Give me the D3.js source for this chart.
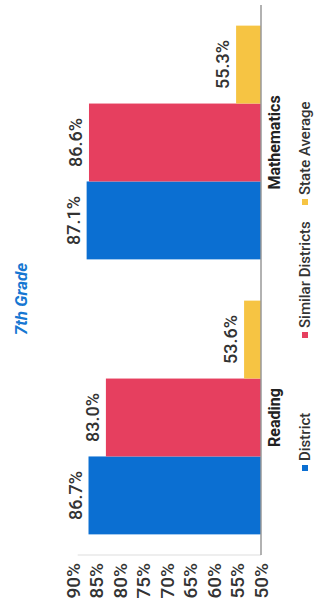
<!DOCTYPE html>
<html>
<head>
<meta charset="utf-8">
<script src="https://cdn.jsdelivr.net/npm/d3@7"></script>
<style>
  body { margin: 0; background: #fff; }
  svg { display: block; font-family: Roboto, sans-serif; }
</style>
</head>
<body>
<svg width="315" height="605"></svg>
<script>
const categories = ["Reading", "Mathematics"];
const series = ["District", "Similar Districts", "State Average"];
const district = [86.7, 87.1];
const similar = [83.0, 86.6];
const state = [53.6, 55.3];
const ticks = [50, 55, 60, 65, 70, 75, 80, 85, 90];
const colors = ["#0b6fd2", "#e63f5f", "#f6c443"];

// chart is laid out upright, then turned a quarter left
const W = 605, H = 315;
const svg = d3.select("svg");
const g = svg.append("g").attr("transform", "translate(0," + W + ") rotate(-90)");

const x = d3.scaleBand().domain(categories).range([50, 600]).paddingInner(0.15).paddingOuter(0.075);
const xs = d3.scaleBand().domain(series).range([0, x.bandwidth()]);
const y = d3.scaleLinear().domain([50, 90]).range([261, 73]);

const rows = categories.map((c, i) => ({
  cat: c,
  vals: [district[i], similar[i], state[i]].map((v, j) => ({ s: series[j], v: v, c: colors[j] }))
}));

g.append("text")
  .attr("x", 306).attr("y", 27)
  .attr("text-anchor", "middle")
  .attr("font-size", 17).attr("font-weight", "bold").attr("font-style", "italic")
  .attr("fill", "#1677d2")
  .text("7th Grade");

// value axis labels
g.selectAll(".tick")
  .data(ticks)
  .enter()
  .append("text")
  .attr("x", 42)
  .attr("y", (d) => y(d))
  .attr("dy", "0.35em")
  .attr("text-anchor", "end")
  .attr("font-size", 19)
  .attr("font-weight", 500)
  .attr("fill", "#333")
  .text((d) => d + "%");

g.append("line")
  .attr("x1", 50).attr("x2", 50).attr("y1", y(89)).attr("y2", y(50))
  .attr("stroke", "#ddd");

const grp = g.selectAll(".grp")
  .data(rows)
  .enter()
  .append("g")
  .attr("transform", (d) => "translate(" + x(d.cat) + ",0)");

grp.selectAll("rect")
  .data((d) => d.vals)
  .enter()
  .append("rect")
  .attr("x", (d) => xs(d.s))
  .attr("width", xs.bandwidth())
  .attr("y", (d) => y(d.v))
  .attr("height", (d) => y(50) - y(d.v))
  .attr("fill", (d) => d.c);

grp.selectAll(".val")
  .data((d) => d.vals)
  .enter()
  .append("text")
  .attr("x", (d) => xs(d.s) + xs.bandwidth() / 2)
  .attr("y", (d) => y(d.v) - 7)
  .attr("text-anchor", "middle")
  .attr("font-size", 18)
  .attr("font-weight", 500)
  .attr("fill", "#333")
  .text((d) => d.v.toFixed(1) + "%");

g.append("line")
  .attr("x1", 50).attr("x2", 600).attr("y1", y(50)).attr("y2", y(50))
  .attr("stroke", "#999").attr("stroke-width", 1.5);

g.selectAll(".cat")
  .data(categories)
  .enter()
  .append("text")
  .attr("x", (d) => x(d) + x.bandwidth() / 2)
  .attr("y", 280)
  .attr("text-anchor", "middle")
  .attr("font-size", 16).attr("font-weight", "bold")
  .attr("fill", "#222")
  .text((d) => d);

// legend: evenly spaced items
const legX = d3.scalePoint().domain(series).range([137, 403]);
const items = g.selectAll(".item")
  .data(series)
  .enter()
  .append("g")
  .attr("transform", (d) => "translate(" + legX(d) + ",0)");
items.append("rect")
  .attr("x", -3).attr("y", 302)
  .attr("width", 6).attr("height", 6)
  .attr("fill", (d, i) => colors[i]);
items.append("text")
  .attr("x", 7).attr("y", 310)
  .attr("font-size", 15)
  .attr("font-weight", 500)
  .attr("fill", "#333")
  .text((d) => d);
</script>
</body>
</html>
